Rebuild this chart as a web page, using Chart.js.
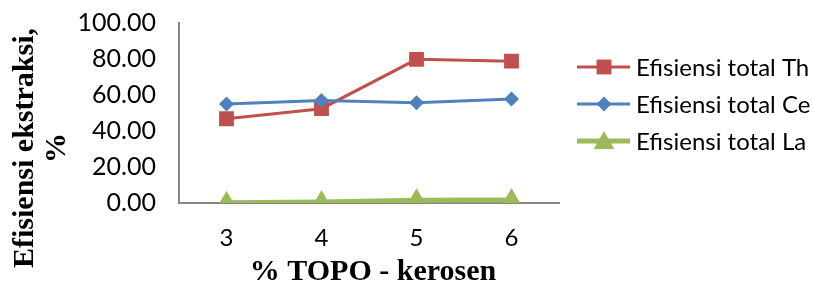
<!DOCTYPE html>
<html>
<head>
<meta charset="utf-8">
<script src="https://cdn.jsdelivr.net/npm/chart.js@4.4.0/dist/chart.umd.min.js"></script>
<style>
  html, body { margin: 0; padding: 0; background: #fff; }
  #wrap { width: 813px; height: 288px; }
</style>
</head>
<body>
<div id="wrap"><canvas id="chart" width="813" height="288"></canvas></div>
<script>
// data
const topoLabels = ['3', '4', '5', '6'];
const effTh = [46.8, 52.4, 79.8, 78.8];
const effCe = [55.0, 57.0, 55.7, 57.8];
const effLa = [0.2, 0.5, 1.5, 1.7];
const yTicks = [0, 20, 40, 60, 80, 100];

const seriesNames = ['Efisiensi total Th', 'Efisiensi total Ce', 'Efisiensi total La'];
const seriesColors = ['#C0504D', '#4F81BD', '#9BBB59'];

// draws axis titles and the legend the way the original does
const extrasPlugin = {
    id: 'extras',
    afterDraw(chart) {
        const c = chart.ctx;
        c.save();
        c.fillStyle = '#000';
        c.font = 'bold 30px "Liberation Serif"';
        c.textAlign = 'center';
        c.textBaseline = 'middle';

        // y axis title, two lines rotated
        c.save();
        c.translate(25, 148);
        c.rotate(-Math.PI / 2);
        c.fillText('Efisiensi ekstraksi,', 0, 0);
        c.restore();
        c.save();
        c.translate(57, 148);
        c.rotate(-Math.PI / 2);
        c.fillText('%', 0, 0);
        c.restore();

        // x axis title
        c.fillText('% TOPO - kerosen', 373, 272);

        // legend
        c.font = '24px Lato';
        c.textAlign = 'left';
        chart.data.datasets.forEach((ds, i) => {
            const y = 67 + i * 37;
            c.strokeStyle = ds.borderColor;
            c.lineWidth = ds.borderWidth;
            c.beginPath();
            c.moveTo(577, y);
            c.lineTo(630, y);
            c.stroke();
            c.fillStyle = ds.pointBackgroundColor;
            Chart.helpers.drawPoint(c, {
                pointStyle: ds.pointStyle,
                radius: ds.pointRadius,
                borderWidth: 0,
                rotation: 0
            }, 604, ds.pointStyle === 'triangle' ? y + 2 : y);
            c.fillStyle = '#000';
            c.fillText(ds.label, 636, y + 1);
        });
        c.restore();
    }
};

const ctx = document.getElementById('chart').getContext('2d');
const chart = new Chart(ctx, {
    type: 'line',
    data: {
        labels: topoLabels,
        datasets: [{
            label: seriesNames[0],
            data: effTh,
            order: 1,
            borderColor: seriesColors[0],
            backgroundColor: seriesColors[0],
            pointBackgroundColor: seriesColors[0],
            pointBorderWidth: 0,
            borderWidth: 3,
            pointStyle: 'rect',
            pointRadius: 10.5
        }, {
            label: seriesNames[1],
            data: effCe,
            order: 0,
            borderColor: seriesColors[1],
            backgroundColor: seriesColors[1],
            pointBackgroundColor: seriesColors[1],
            pointBorderWidth: 0,
            borderWidth: 3,
            pointStyle: 'rectRot',
            pointRadius: 7.5
        }, {
            label: seriesNames[2],
            data: effLa,
            order: 2,
            borderColor: seriesColors[2],
            backgroundColor: seriesColors[2],
            pointBackgroundColor: seriesColors[2],
            pointBorderWidth: 0,
            borderWidth: 5,
            pointStyle: 'triangle',
            pointRadius: 12
        }]
    },
    options: {
        responsive: false,
        animation: false,
        layout: {
            padding: { top: 23, right: 254, left: 0, bottom: 0 }
        },
        plugins: {
            legend: { display: false },
            tooltip: { enabled: false }
        },
        scales: {
            x: {
                offset: true,
                grid: { display: false, drawTicks: false },
                border: { display: true, color: '#868686', width: 2 },
                ticks: {
                    padding: 21,
                    color: '#000',
                    font: { family: 'Lato', size: 24 }
                },
                afterFit: (s) => { s.height = 85; s.paddingLeft = 0; s.paddingRight = 0; }
            },
            y: {
                min: 0,
                max: 100,
                grid: { display: false, drawTicks: false },
                border: { display: true, color: '#868686', width: 2 },
                afterBuildTicks: (s) => { s.ticks = yTicks.map(v => ({ value: v })); },
                ticks: {
                    padding: 23,
                    color: '#000',
                    font: { family: 'Lato', size: 25 },
                    callback: (v) => Number(v).toFixed(2)
                },
                // tick padding would otherwise push the plot top down
                afterFit: (s) => { s.width = 179; s.paddingTop = 0; s.paddingBottom = 0; }
            }
        }
    },
    plugins: [extrasPlugin]
});
</script>
</body>
</html>
